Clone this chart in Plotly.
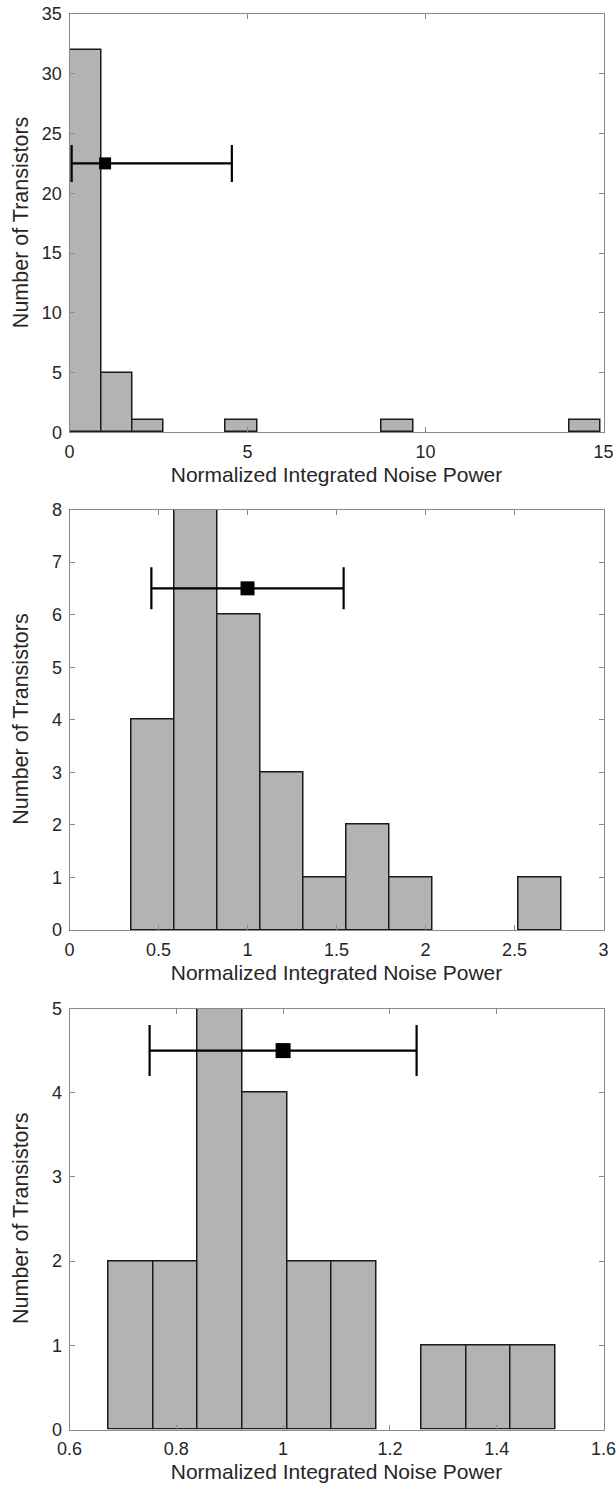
import plotly.graph_objects as go

# ---------------- data ----------------
# Panel 1
p1_centers = [0.448, 1.325, 2.201, 4.831, 9.213, 14.472]
p1_counts = [32, 5, 1, 1, 1, 1]
p1_width = 0.8765
p1_mean, p1_level, p1_minus, p1_plus = 1.0, 22.5, 0.94, 3.56

# Panel 2
p2_centers = [0.4698, 0.7113, 0.9528, 1.1943, 1.4358, 1.6773, 1.9188, 2.6433]
p2_counts = [4, 8, 6, 3, 1, 2, 1, 1]
p2_width = 0.2415
p2_mean, p2_level, p2_minus, p2_plus = 1.0, 6.5, 0.54, 0.54

# Panel 3
p3_centers = [0.7149, 0.7986, 0.8823, 0.9660, 1.0497, 1.1334, 1.3008, 1.3845, 1.4682]
p3_counts = [2, 2, 5, 4, 2, 2, 1, 1, 1]
p3_width = 0.0837
p3_mean, p3_level, p3_minus, p3_plus = 1.0, 4.5, 0.25, 0.25

x_title = "Normalized Integrated Noise Power"
y_title = "Number of Transistors"

# ---------------- style ----------------
W, H = 616, 1494
BAR_FILL = "#b3b3b3"
BAR_LINE = "#1a1a1a"
FRAME = "#8a8a8a"
TXT = "#262626"
FONT = "Liberation Sans, Arial, sans-serif"

panels = [
    dict(c=p1_centers, n=p1_counts, w=p1_width, m=p1_mean, lv=p1_level, mi=p1_minus, pl=p1_plus,
         xr=[0, 15], xt=[0, 5, 10, 15], xl=["0", "5", "10", "15"],
         yr=[0, 35], yt=[0, 5, 10, 15, 20, 25, 30, 35], top=14, bot=432.3, cap=18.5, ms=12),
    dict(c=p2_centers, n=p2_counts, w=p2_width, m=p2_mean, lv=p2_level, mi=p2_minus, pl=p2_plus,
         xr=[0, 3], xt=[0, 0.5, 1, 1.5, 2, 2.5, 3], xl=["0", "0.5", "1", "1.5", "2", "2.5", "3"],
         yr=[0, 8], yt=list(range(0, 9)), top=509.5, bot=930, cap=21, ms=14),
    dict(c=p3_centers, n=p3_counts, w=p3_width, m=p3_mean, lv=p3_level, mi=p3_minus, pl=p3_plus,
         xr=[0.6, 1.6], xt=[0.6, 0.8, 1.0, 1.2, 1.4, 1.6], xl=["0.6", "0.8", "1", "1.2", "1.4", "1.6"],
         yr=[0, 5], yt=list(range(0, 6)), top=1008.5, bot=1429.5, cap=25.5, ms=15),
]

x_dom = [69.5 / W, 603.5 / W]

fig = go.Figure()
layout = dict(
    width=W, height=H,
    margin=dict(l=0, r=0, t=0, b=0, autoexpand=False),
    paper_bgcolor="white", plot_bgcolor="white",
    showlegend=False,
    font=dict(family=FONT, color=TXT, size=18),
    bargap=0,
)
annotations = []

for i, p in enumerate(panels, start=1):
    xa = "x" if i == 1 else f"x{i}"
    ya = "y" if i == 1 else f"y{i}"
    fig.add_trace(go.Bar(
        x=p["c"], y=p["n"], width=[p["w"]] * len(p["c"]),
        marker=dict(color=BAR_FILL, line=dict(color=BAR_LINE, width=1.5)),
        xaxis=xa, yaxis=ya, hoverinfo="skip",
    ))
    fig.add_trace(go.Scatter(
        x=[p["m"]], y=[p["lv"]], mode="markers",
        marker=dict(symbol="square", size=p["ms"], color="black"),
        error_x=dict(type="data", symmetric=False, array=[p["pl"]], arrayminus=[p["mi"]],
                     color="black", thickness=2.2, width=p["cap"]),
        xaxis=xa, yaxis=ya, cliponaxis=False, hoverinfo="skip",
    ))
    y_dom = [1 - p["bot"] / H, 1 - p["top"] / H]
    axis_common = dict(
        showline=True, linecolor=FRAME, linewidth=1, mirror="ticks",
        ticks="inside", ticklen=5, tickcolor=FRAME, tickwidth=1,
        showgrid=False, zeroline=False, fixedrange=True, automargin=False,
        ticklabeloverflow="allow",
        tickfont=dict(size=18, color=TXT, family=FONT),
    )
    layout["xaxis" if i == 1 else f"xaxis{i}"] = dict(
        axis_common, domain=x_dom, anchor=ya, range=p["xr"],
        tickmode="array", tickvals=p["xt"], ticktext=p["xl"], ticklabelstandoff=3,
        title=dict(text=x_title, font=dict(size=21, color=TXT, family=FONT), standoff=6),
    )
    layout["yaxis" if i == 1 else f"yaxis{i}"] = dict(
        axis_common, domain=y_dom, anchor=xa, range=p["yr"],
        tickmode="array", tickvals=p["yt"], ticktext=[str(v) for v in p["yt"]],
        ticklabelstandoff=3,
    )
    annotations.append(dict(
        text=y_title, textangle=-90, xref="paper", yref="paper",
        x=21 / W, y=(y_dom[0] + y_dom[1]) / 2, xanchor="center", yanchor="middle",
        showarrow=False, font=dict(size=21.5, color=TXT, family=FONT),
    ))

layout["annotations"] = annotations
fig.update_layout(**layout)
fig.write_html("out.html")
